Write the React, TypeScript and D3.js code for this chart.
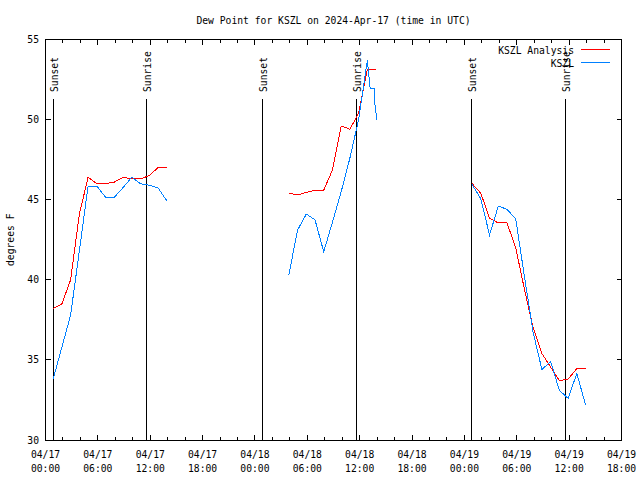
import React from "react";
import * as d3 from "d3";

// hours since 2024-04-17 00:00 UTC
const title = "Dew Point for KSZL on 2024-Apr-17 (time in UTC)";
const yLabel = "degrees F";
const yTicks = [30, 35, 40, 45, 50, 55];
const xTickHours = [0, 6, 12, 18, 24, 30, 36, 42, 48, 54, 60, 66];
const xTickDates = ["04/17", "04/17", "04/17", "04/17", "04/18", "04/18", "04/18", "04/18", "04/19", "04/19", "04/19", "04/19"];
const xTickTimes = ["00:00", "06:00", "12:00", "18:00", "00:00", "06:00", "12:00", "18:00", "00:00", "06:00", "12:00", "18:00"];
const xMinorHours = d3.range(0, 67, 2);

const sunEvents = ["Sunset", "Sunrise", "Sunset", "Sunrise", "Sunset", "Sunrise"];
const sunHours = [0.89, 11.63, 24.84, 35.61, 48.79, 59.56];

// KSZL Analysis (red)
const anaTimes1 = [0.88, 1.88, 2.88, 3.88, 4.88, 5.88, 6.88, 7.88, 8.88, 9.88, 10.88, 11.88, 12.88, 13.88];
const anaVals1 = [38.2, 38.5, 40.0, 44.1, 46.4, 46.0, 46.0, 46.1, 46.4, 46.3, 46.3, 46.5, 47.0, 47.0];
const anaTimes2 = [27.88, 28.88, 29.88, 30.88, 31.88, 32.88, 33.88, 34.88, 35.88, 36.88, 37.88];
const anaVals2 = [45.4, 45.3, 45.45, 45.6, 45.6, 46.85, 49.6, 49.4, 50.4, 53.15, 53.15];
const anaTimes3 = [48.88, 49.88, 50.88, 51.88, 52.88, 53.88, 54.88, 55.88, 56.88, 57.88, 58.88, 59.88, 60.88, 61.88];
const anaVals3 = [46.0, 45.4, 43.85, 43.55, 43.55, 42.0, 39.4, 37.0, 35.4, 34.55, 33.7, 33.8, 34.45, 34.45];

// KSZL observed (blue)
const obsTimes1 = [0.88, 1.88, 2.88, 3.88, 4.88, 5.88, 6.88, 7.88, 8.88, 9.88, 10.88, 11.88, 12.88, 13.88];
const obsVals1 = [33.8, 35.8, 37.8, 41.8, 45.85, 45.85, 45.15, 45.15, 45.75, 46.4, 46.0, 45.9, 45.75, 44.95];
const obsTimes2 = [27.88, 28.88, 29.88, 30.88, 31.88, 32.88, 33.88, 34.88, 35.88, 36.88, 37.2, 37.65, 37.68, 37.97];
const obsVals2 = [40.3, 43.1, 44.1, 43.75, 41.75, 43.6, 45.5, 47.6, 50.0, 53.7, 51.95, 51.95, 51.2, 50.0];
const obsTimes3 = [48.88, 49.88, 50.88, 51.88, 52.88, 53.88, 54.88, 55.88, 56.88, 57.88, 58.88, 59.88, 60.88, 61.88];
const obsVals3 = [45.95, 45.05, 42.8, 44.6, 44.4, 43.8, 40.2, 36.7, 34.4, 34.9, 33.1, 32.6, 34.15, 32.2];

const legendNames = ["KSZL Analysis", "KSZL"];
const colors = ["#ff0000", "#0080ff"];

const FONT = "'DejaVu Sans Mono', monospace";
const FS = 9.7;

export default function App() {
  const left = 45.5, right = 621.5, top = 39.5, bottom = 440;
  const x = d3.scaleLinear().domain([0, 66]).range([left, right]);
  const y = d3.scaleLinear().domain([30, 55]).range([bottom, top]);
  const line = d3.line<[number, number]>().x((d) => x(d[0])).y((d) => y(d[1]));
  const zip = (t: number[], v: number[]) => t.map((tt, i) => [tt, v[i]] as [number, number]);

  const series = [
    { color: colors[0], segs: [zip(anaTimes1, anaVals1), zip(anaTimes2, anaVals2), zip(anaTimes3, anaVals3)] },
    { color: colors[1], segs: [zip(obsTimes1, obsVals1), zip(obsTimes2, obsVals2), zip(obsTimes3, obsVals3)] },
  ];

  return (
    <svg width={640} height={480} style={{ position: "absolute", left: 0, top: 0, background: "#fff" }}
      fontFamily={FONT} fontSize={FS}>
      <rect x={0} y={0} width={640} height={480} fill="#fff" />
      <text x={(left + right) / 2} y={24} textAnchor="middle">{title}</text>
      <text transform={`translate(14,${(top + bottom) / 2}) rotate(-90)`} textAnchor="middle">{yLabel}</text>

      {/* y ticks */}
      {yTicks.map((v) => (
        <g key={"y" + v} shapeRendering="crispEdges">
          <line x1={left} x2={left + 5} y1={y(v)} y2={y(v)} stroke="#000" />
          <line x1={right} x2={right - 5} y1={y(v)} y2={y(v)} stroke="#000" />
          <text x={39} y={y(v) + 3.5} textAnchor="end">{v}</text>
        </g>
      ))}

      {/* x minor ticks */}
      {xMinorHours.map((h) => (
        <g key={"m" + h} shapeRendering="crispEdges">
          <line x1={x(h)} x2={x(h)} y1={bottom} y2={bottom - 3} stroke="#000" />
          <line x1={x(h)} x2={x(h)} y1={top} y2={top + 3} stroke="#000" />
        </g>
      ))}
      {/* x major ticks */}
      {xTickHours.map((h, i) => (
        <g key={"x" + h}>
          <line x1={x(h)} x2={x(h)} y1={bottom} y2={bottom - 5} stroke="#000" shapeRendering="crispEdges" />
          <line x1={x(h)} x2={x(h)} y1={top} y2={top + 5} stroke="#000" shapeRendering="crispEdges" />
          <text x={x(h)} y={458} textAnchor="middle">{xTickDates[i]}</text>
          <text x={x(h)} y={472} textAnchor="middle">{xTickTimes[i]}</text>
        </g>
      ))}

      {/* sun events */}
      {sunHours.map((h, i) => (
        <g key={"s" + i}>
          <line x1={x(h)} x2={x(h)} y1={99} y2={bottom} stroke="#000" shapeRendering="crispEdges" />
          <text transform={`translate(${x(h) + 4.5},92) rotate(-90)`}>{sunEvents[i]}</text>
        </g>
      ))}

      {/* data */}
      {series.map((s, si) =>
        s.segs.map((seg, j) => (
          <path key={si + "-" + j} d={line(seg) || ""} fill="none" stroke={s.color} strokeWidth={1}
            shapeRendering="crispEdges" />
        ))
      )}

      {/* frame */}
      <rect x={left} y={top} width={right - left} height={bottom - top} fill="none" stroke="#000"
        shapeRendering="crispEdges" />

      {/* legend */}
      {legendNames.map((n, i) => (
        <g key={"l" + i}>
          <text x={574} y={53.5 + i * 13} textAnchor="end">{n}</text>
          <line x1={581} x2={610} y1={49.5 + i * 13} y2={49.5 + i * 13} stroke={colors[i]} shapeRendering="crispEdges" />
        </g>
      ))}
    </svg>
  );
}
